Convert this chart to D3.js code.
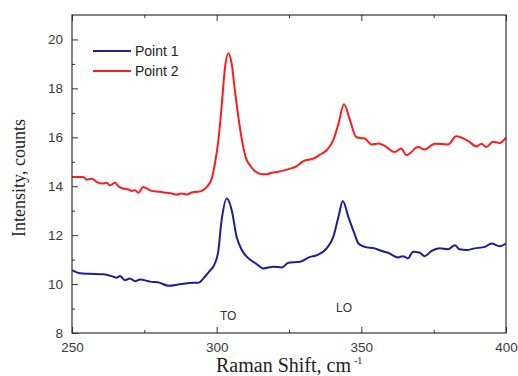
<!DOCTYPE html>
<html>
<head>
<meta charset="utf-8">
<script src="https://cdn.jsdelivr.net/npm/d3@7"></script>
<style>
  body { margin: 0; background: #fff; }
  svg { display: block; }
</style>
</head>
<body>
<div id="viz"></div>
<script>
// series

// Point 1 (blue)
let shift1 = [250, 252.8, 256, 260.8, 264.3, 265.4, 266.6, 268.3, 270, 271.8, 273.5, 277, 280.4, 283.3, 287.3, 291.9, 293.7, 295.4, 297.7, 299, 300.5, 301.7, 303.5, 305.2, 306.9, 308.7, 311, 313.8, 316.1, 319.6, 322.5, 324.8, 328.8, 332.3, 334.6, 338, 340.3, 342.1, 343.6, 345.5, 347.5, 349, 351.2, 354.6, 356.9, 359.2, 362.7, 364.4, 366.1, 367.9, 370.2, 371.9, 374.2, 377.1, 380, 382.3, 384, 386.3, 389.2, 392.7, 395, 397.8, 400];
let point1 = [10.57, 10.44, 10.42, 10.4, 10.3, 10.26, 10.33, 10.16, 10.23, 10.12, 10.19, 10.1, 10.05, 9.93, 9.99, 10.05, 10.05, 10.23, 10.55, 10.75, 11.3, 12.6, 13.5, 13.02, 11.93, 11.39, 11.05, 10.82, 10.64, 10.71, 10.68, 10.87, 10.91, 11.11, 11.18, 11.46, 11.93, 12.75, 13.4, 12.75, 12.1, 11.66, 11.52, 11.46, 11.36, 11.28, 11.09, 11.14, 11.05, 11.32, 11.28, 11.14, 11.35, 11.46, 11.42, 11.59, 11.42, 11.39, 11.46, 11.52, 11.66, 11.55, 11.66];

// Point 2 (red)
let shift2 = [250, 253.9, 255.1, 256.8, 258.5, 260.3, 262, 263.1, 264.9, 266, 267.7, 269.5, 270.6, 271.8, 272.9, 274.6, 275.8, 277.5, 280.4, 282.7, 284.5, 286.2, 287.9, 289.6, 291.4, 293.1, 294.8, 296.6, 298.3, 299.4, 300.6, 301.7, 302.9, 304, 305.2, 306.3, 307.5, 309.2, 310.3, 311.5, 313.3, 315.3, 317.3, 319, 320.8, 324.2, 327.7, 330, 333.4, 335.7, 338, 340.3, 342.1, 344, 346.1, 348.3, 351.2, 353.5, 356, 358.1, 361.5, 363.8, 365.6, 369.6, 371.9, 375.4, 380, 382.8, 386.9, 389.8, 391.5, 393.2, 395.5, 397.8, 400];
let point2 = [14.38, 14.38, 14.27, 14.31, 14.18, 14.11, 14.14, 14.04, 14.14, 14.0, 13.91, 13.87, 13.81, 13.84, 13.73, 13.97, 13.91, 13.81, 13.77, 13.73, 13.7, 13.66, 13.7, 13.66, 13.74, 13.77, 13.81, 13.97, 14.31, 14.93, 15.88, 17.24, 18.87, 19.44, 19.0, 17.92, 16.83, 15.6, 15.1, 14.86, 14.61, 14.5, 14.49, 14.55, 14.58, 14.68, 14.82, 15.03, 15.13, 15.29, 15.47, 15.88, 16.56, 17.35, 16.69, 16.0, 15.95, 15.71, 15.75, 15.65, 15.4, 15.54, 15.27, 15.6, 15.5, 15.74, 15.71, 16.04, 15.85, 15.63, 15.74, 15.6, 15.82, 15.77, 15.99];

let xTicks = [250, 300, 350, 400];
let xMinor = [275, 325, 375];
let yTicks = [8, 10, 12, 14, 16, 18, 20];
let yMinor = [9, 11, 13, 15, 17, 19];

let seriesNames = ['Point 1', 'Point 2'];
let seriesColors = ['#1e1e96', '#ff1c1c'];

// peak labels
let peakNames = ['TO', 'LO'];
let peakShift = [304, 344];
let peakLabelY = [8.55, 8.85];

// draw
const width = 518;
const height = 376;
const mLeft = 72, mRight = 506, mTop = 15, mBottom = 333;

let x = d3.scaleLinear().domain([250, 400]).range([mLeft, mRight]);
let y = d3.scaleLinear().domain([8, 21]).range([mBottom, mTop]);

let svg = d3
  .select('#viz')
  .append('svg')
  .attr('width', width)
  .attr('height', height);

let tickFont = "'Liberation Sans', Arial, sans-serif";
let titleFont = "'Liberation Serif', 'Times New Roman', serif";

// curves
let line = d3
  .line()
  .x((d) => x(d[0]))
  .y((d) => y(d[1]))
  .curve(d3.curveMonotoneX);

let series = [
  d3.zip(shift1, point1),
  d3.zip(shift2, point2)
];

svg
  .append('g')
  .selectAll('path')
  .data(series)
  .enter()
  .append('path')
  .attr('d', line)
  .attr('fill', 'none')
  .attr('stroke', (d, i) => seriesColors[i])
  .attr('stroke-width', 2)
  .attr('stroke-linejoin', 'round');

// axes, ticks point inward
function styleAxis(g) {
  g.select('.domain').remove();
  g.selectAll('line').attr('stroke', '#333');
  g.selectAll('text')
    .attr('fill', '#3a3a3a')
    .style('font-family', tickFont)
    .style('font-size', '13.5px');
}

svg
  .append('g')
  .attr('transform', `translate(0,${mBottom})`)
  .call(d3.axisBottom(x).tickValues(xTicks).tickSizeInner(-6).tickPadding(9).tickFormat(d3.format('d')))
  .call(styleAxis);

svg
  .append('g')
  .attr('transform', `translate(0,${mBottom})`)
  .call(d3.axisBottom(x).tickValues(xMinor).tickSizeInner(-3).tickFormat(''))
  .call(styleAxis);

svg
  .append('g')
  .attr('transform', `translate(0,${mTop})`)
  .call(d3.axisBottom(x).tickValues(xTicks).tickSizeInner(6).tickFormat(''))
  .call(styleAxis);

svg
  .append('g')
  .attr('transform', `translate(0,${mTop})`)
  .call(d3.axisBottom(x).tickValues(xMinor).tickSizeInner(3).tickFormat(''))
  .call(styleAxis);

svg
  .append('g')
  .attr('transform', `translate(${mLeft},0)`)
  .call(d3.axisLeft(y).tickValues(yTicks).tickSizeInner(-6).tickPadding(9))
  .call(styleAxis);

svg
  .append('g')
  .attr('transform', `translate(${mLeft},0)`)
  .call(d3.axisLeft(y).tickValues(yMinor).tickSizeInner(-3).tickFormat(''))
  .call(styleAxis);

// frame
svg
  .append('rect')
  .attr('x', mLeft)
  .attr('y', mTop)
  .attr('width', mRight - mLeft)
  .attr('height', mBottom - mTop)
  .attr('fill', 'none')
  .attr('stroke', '#333')
  .attr('stroke-width', 1.2);

// axis titles
let xTitle = svg
  .append('text')
  .attr('x', 216)
  .attr('y', 372)
  .style('font-family', titleFont)
  .style('font-size', '20px')
  .attr('fill', '#222');
xTitle.append('tspan').text('Raman Shift, cm');
xTitle
  .append('tspan')
  .attr('dx', 3)
  .attr('dy', -8)
  .style('font-size', '10px')
  .text('-1');

svg
  .append('text')
  .attr('transform', `translate(25,${(mTop + mBottom) / 2 + 4}) rotate(-90)`)
  .attr('text-anchor', 'middle')
  .style('font-family', titleFont)
  .style('font-size', '18px')
  .attr('fill', '#222')
  .text('Intensity, counts');

// peak labels
svg
  .append('g')
  .selectAll('text')
  .data(peakNames)
  .enter()
  .append('text')
  .attr('x', (d, i) => x(peakShift[i]))
  .attr('y', (d, i) => y(peakLabelY[i]))
  .attr('text-anchor', 'middle')
  .style('font-family', tickFont)
  .style('font-size', '12px')
  .attr('fill', '#333')
  .text((d) => d);

// legend
let legend = svg
  .append('g')
  .selectAll('g')
  .data(seriesNames)
  .enter()
  .append('g')
  .attr('transform', (d, i) => `translate(93,${51 + i * 20})`);

legend
  .append('line')
  .attr('x1', 0)
  .attr('x2', 38)
  .attr('stroke', (d, i) => seriesColors[i])
  .attr('stroke-width', 2);

legend
  .append('text')
  .attr('x', 42)
  .attr('dy', '0.35em')
  .style('font-family', tickFont)
  .style('font-size', '14px')
  .attr('fill', '#222')
  .text((d) => d);
</script>
</body>
</html>
